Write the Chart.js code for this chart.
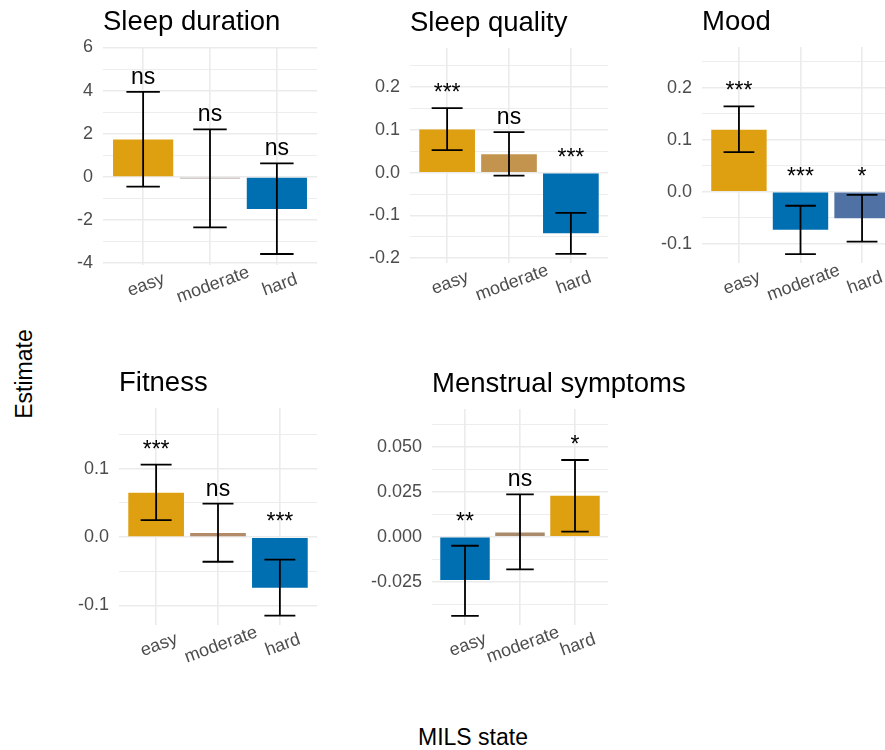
<!DOCTYPE html>
<html>
<head>
<meta charset="utf-8">
<script src="https://cdn.jsdelivr.net/npm/chart.js@4.4.0/dist/chart.umd.min.js"></script>
<style>
  html, body { margin: 0; padding: 0; background: #fff; overflow: hidden; }
  body { width: 885px; height: 750px; position: relative; font-family: "Liberation Sans", Arial, sans-serif; }
  .panel { position: absolute; }
  .axis-title { position: absolute; font-size: 23px; color: #000; line-height: 23px; white-space: nowrap; }
</style>
</head>
<body>
<div class="axis-title" id="ytitle" style="left:24px; top:374px; transform: translate(-50%, -50%) rotate(-90deg);">Estimate</div>
<div class="axis-title" id="xtitle" style="left:473px; top:737px; transform: translate(-50%, -50%);">MILS state</div>

<script>
const states = ['easy', 'moderate', 'hard'];

const GOLD = '#DE9F11';
const BLUE = '#006FB1';
const STEEL = '#4F71A3';

// Sleep duration
const sleepDurEst = [1.74, -0.03, -1.48];
const sleepDurLow = [-0.45, -2.34, -3.57];
const sleepDurHigh = [3.94, 2.2, 0.63];
const sleepDurSig = ['ns', 'ns', 'ns'];
const sleepDurTicks = [-4, -2, 0, 2, 4, 6];
const sleepDurTickLabels = ['-4', '-2', '0', '2', '4', '6'];
const sleepDurMinor = [-3, -1, 1, 3, 5];

// Sleep quality
const sleepQualEst = [0.101, 0.043, -0.142];
const sleepQualLow = [0.053, -0.007, -0.19];
const sleepQualHigh = [0.151, 0.095, -0.094];
const sleepQualSig = ['***', 'ns', '***'];
const sleepQualTicks = [-0.2, -0.1, 0, 0.1, 0.2];
const sleepQualTickLabels = ['-0.2', '-0.1', '0.0', '0.1', '0.2'];
const sleepQualMinor = [-0.15, -0.05, 0.05, 0.15, 0.25];

// Mood
const moodEst = [0.119, -0.073, -0.051];
const moodLow = [0.076, -0.12, -0.096];
const moodHigh = [0.164, -0.027, -0.006];
const moodSig = ['***', '***', '*'];
const moodTicks = [-0.1, 0, 0.1, 0.2];
const moodTickLabels = ['-0.1', '0.0', '0.1', '0.2'];
const moodMinor = [-0.05, 0.05, 0.15, 0.25];

// Fitness
const fitnessEst = [0.065, 0.006, -0.074];
const fitnessLow = [0.025, -0.036, -0.115];
const fitnessHigh = [0.106, 0.049, -0.033];
const fitnessSig = ['***', 'ns', '***'];
const fitnessTicks = [-0.1, 0, 0.1];
const fitnessTickLabels = ['-0.1', '0.0', '0.1'];
const fitnessMinor = [-0.05, 0.05, 0.15];

// Menstrual symptoms
const menstrualEst = [-0.024, 0.0024, 0.0228];
const menstrualLow = [-0.0439, -0.0181, 0.0028];
const menstrualHigh = [-0.005, 0.0235, 0.0426];
const menstrualSig = ['**', 'ns', '*'];
const menstrualTicks = [-0.025, 0, 0.025, 0.05];
const menstrualTickLabels = ['-0.025', '0.000', '0.025', '0.050'];
const menstrualMinor = [-0.0375, -0.0125, 0.0125, 0.0375, 0.0625];

const FONT = '"Liberation Sans", Arial, sans-serif';
const Y_AXIS_W = 70;
const X_AXIS_H = 60;
const PAD_TOP = 50;
const PAD_RIGHT = 130;

function decorPlugin(p) {
    return {
        id: 'decor',
        afterDatasetsDraw(chart) {
            const ctx = chart.ctx;
            const xs = chart.scales.x;
            const ys = chart.scales.y;
            const area = chart.chartArea;
            ctx.save();

            // error bars
            ctx.strokeStyle = '#000';
            ctx.lineWidth = 1.8;
            p.est.forEach((v, i) => {
                const x = xs.getPixelForValue(i + 1);
                const x0 = xs.getPixelForValue(i + 0.75);
                const x1 = xs.getPixelForValue(i + 1.25);
                const yLo = ys.getPixelForValue(p.low[i]);
                const yHi = ys.getPixelForValue(p.high[i]);
                ctx.beginPath();
                ctx.moveTo(x, yLo); ctx.lineTo(x, yHi);
                ctx.moveTo(x0, yLo); ctx.lineTo(x1, yLo);
                ctx.moveTo(x0, yHi); ctx.lineTo(x1, yHi);
                ctx.stroke();
            });

            // significance labels
            ctx.fillStyle = '#000';
            ctx.font = '23px ' + FONT;
            ctx.textAlign = 'center';
            ctx.textBaseline = 'alphabetic';
            p.sig.forEach((s, i) => {
                const x = xs.getPixelForValue(i + 1);
                const y = ys.getPixelForValue(Math.max(p.high[i], 0)) - 8;
                ctx.fillText(s, x, y);
            });

            // rotated category labels
            ctx.fillStyle = '#4D4D4D';
            ctx.font = '18px ' + FONT;
            ctx.textBaseline = 'middle';
            states.forEach((s, i) => {
                const x = xs.getPixelForValue(i + 1);
                ctx.save();
                ctx.translate(x + 3, area.bottom + 20);
                ctx.rotate(-20 * Math.PI / 180);
                ctx.fillText(s, 0, 0);
                ctx.restore();
            });

            // panel title
            ctx.fillStyle = '#000';
            ctx.font = '27.5px ' + FONT;
            ctx.textAlign = 'left';
            ctx.textBaseline = 'alphabetic';
            ctx.fillText(p.title, area.left, area.top - 17);

            ctx.restore();
        }
    };
}

function makePanel(p) {
    const w = (p.right - p.left) + Y_AXIS_W + PAD_RIGHT;
    const h = (p.bottom - p.top) + PAD_TOP + X_AXIS_H;
    const div = document.createElement('div');
    div.className = 'panel';
    div.style.left = (p.left - Y_AXIS_W) + 'px';
    div.style.top = (p.top - PAD_TOP) + 'px';
    div.style.width = w + 'px';
    div.style.height = h + 'px';
    const canvas = document.createElement('canvas');
    canvas.width = w;
    canvas.height = h;
    div.appendChild(canvas);
    document.body.appendChild(div);

    const allTicks = p.ticks.concat(p.minor).sort((a, b) => a - b);

    return new Chart(canvas, {
        type: 'bar',
        data: {
            datasets: [{
                data: p.est.map((v, i) => ({ x: i + 1, y: v })),
                backgroundColor: p.colors,
                borderWidth: 0,
                barPercentage: 0.9,
                categoryPercentage: 1,
                minBarLength: 1.5
            }]
        },
        options: {
            responsive: false,
            animation: false,
            layout: { padding: { top: PAD_TOP, right: PAD_RIGHT, left: 0, bottom: 0 } },
            plugins: {
                legend: { display: false },
                tooltip: { enabled: false }
            },
            scales: {
                x: {
                    type: 'linear',
                    min: 0.4,
                    max: 3.6,
                    offset: false,
                    afterBuildTicks: (scale) => {
                        scale.ticks = states.map((s, i) => ({ value: i + 1 }));
                    },
                    afterFit: (scale) => { scale.height = X_AXIS_H; },
                    ticks: { display: false },
                    border: { display: false },
                    grid: { offset: false, color: '#EBEBEB', lineWidth: 1.6, drawTicks: false }
                },
                y: {
                    min: p.yMin,
                    max: p.yMax,
                    afterBuildTicks: (scale) => {
                        scale.ticks = allTicks.map(v => ({ value: v }));
                    },
                    afterFit: (scale) => { scale.width = Y_AXIS_W; },
                    border: { display: false },
                    grid: {
                        drawTicks: false,
                        color: '#EBEBEB',
                        lineWidth: (c) => p.ticks.includes(c.tick.value) ? 1.6 : 0.9
                    },
                    ticks: {
                        padding: 10,
                        color: '#4D4D4D',
                        font: { size: 18, family: FONT },
                        autoSkip: false,
                        callback: (value) => {
                            const k = p.ticks.indexOf(value);
                            return k >= 0 ? p.tickLabels[k] : '';
                        }
                    }
                }
            }
        },
        plugins: [decorPlugin(p)]
    });
}

makePanel({
    title: 'Sleep duration',
    est: sleepDurEst, low: sleepDurLow, high: sleepDurHigh, sig: sleepDurSig,
    ticks: sleepDurTicks, tickLabels: sleepDurTickLabels, minor: sleepDurMinor,
    colors: [GOLD, '#A79A95', BLUE],
    yMin: -4.08, yMax: 6.02,
    left: 103, right: 317, top: 47, bottom: 265
});

makePanel({
    title: 'Sleep quality',
    est: sleepQualEst, low: sleepQualLow, high: sleepQualHigh, sig: sleepQualSig,
    ticks: sleepQualTicks, tickLabels: sleepQualTickLabels, minor: sleepQualMinor,
    colors: [GOLD, '#C3944E', BLUE],
    yMin: -0.2115, yMax: 0.292,
    left: 410, right: 608, top: 48, bottom: 263
});

makePanel({
    title: 'Mood',
    est: moodEst, low: moodLow, high: moodHigh, sig: moodSig,
    ticks: moodTicks, tickLabels: moodTickLabels, minor: moodMinor,
    colors: [GOLD, BLUE, STEEL],
    yMin: -0.137, yMax: 0.278,
    left: 702, right: 899, top: 47, bottom: 263
});

makePanel({
    title: 'Fitness',
    est: fitnessEst, low: fitnessLow, high: fitnessHigh, sig: fitnessSig,
    ticks: fitnessTicks, tickLabels: fitnessTickLabels, minor: fitnessMinor,
    colors: [GOLD, '#B28B68', BLUE],
    yMin: -0.1286, yMax: 0.189,
    left: 119, right: 317, top: 408, bottom: 625
});

makePanel({
    title: 'Menstrual symptoms',
    est: menstrualEst, low: menstrualLow, high: menstrualHigh, sig: menstrualSig,
    ticks: menstrualTicks, tickLabels: menstrualTickLabels, minor: menstrualMinor,
    colors: [BLUE, '#A98A6A', GOLD],
    yMin: -0.049, yMax: 0.0709,
    left: 432, right: 608, top: 409, bottom: 625
});
</script>
</body>
</html>
